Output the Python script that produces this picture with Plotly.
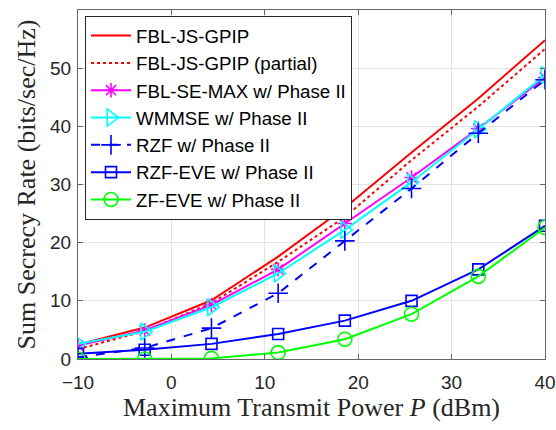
import plotly.graph_objects as go

x_power = [-10, -2.86, 4.29, 11.43, 18.57, 25.71, 32.86, 40]

fbl_js_gpip = [2.5, 5.4, 10.1, 17.6, 26.0, 35.5, 44.8, 54.8]
fbl_js_gpip_partial = [1.7, 4.8, 9.6, 16.7, 24.4, 34.2, 43.4, 53.3]
fbl_se_max = [2.3, 4.9, 9.3, 15.4, 23.3, 31.2, 39.6, 48.4]
wmmse = [2.6, 4.7, 8.9, 14.7, 22.2, 30.4, 39.5, 48.8]
rzf = [0.3, 1.9, 5.3, 11.3, 20.3, 29.3, 38.8, 48.0]
rzf_eve = [0.9, 1.6, 2.6, 4.3, 6.6, 10.0, 15.4, 22.9]
zf_eve = [0.0, 0.0, 0.1, 1.1, 3.4, 7.7, 14.2, 22.6]

series = [
    ("FBL-JS-GPIP", fbl_js_gpip, "#ff0000", "solid", None, 0),
    ("FBL-JS-GPIP (partial)", fbl_js_gpip_partial, "#ff0000", "dot", None, 0),
    ("FBL-SE-MAX w/ Phase II", fbl_se_max, "#ff00ff", "solid", "asterisk-open", 12),
    ("WMMSE w/ Phase II", wmmse, "#00ffff", "solid", "triangle-right-open", 15),
    ("RZF w/ Phase II", rzf, "#0000ff", "dash", "cross-thin-open", 14),
    ("RZF-EVE w/ Phase II", rzf_eve, "#0000ff", "solid", "square-open", 11),
    ("ZF-EVE w/ Phase II", zf_eve, "#00ff00", "solid", "circle-open", 14),
]

fig = go.Figure()
for i, (name, ys, color, dash, sym, size) in enumerate(series):
    mode = "lines+markers" if sym else "lines"
    kw = {}
    if sym:
        kw["marker"] = dict(symbol=sym, size=size, color=color,
                            line=dict(color=color, width=1.6))
    fig.add_trace(go.Scatter(
        x=x_power, y=ys, name=name, mode=mode, legendgroup=f"g{i}",
        line=dict(color=color, width=2, dash=dash), **kw))

axis_common = dict(
    showline=True, linecolor="#666666", linewidth=1.3, mirror="ticks",
    ticks="inside", ticklen=5, tickcolor="#666666", automargin=False,
    showgrid=True, gridcolor="#e3e3e3", gridwidth=1, zeroline=False,
    tickfont=dict(family="Liberation Sans, Arial", size=19, color="#262626"),
)
title_font = dict(family="Liberation Serif, Times New Roman", size=26, color="#262626")

fig.update_layout(
    width=556, height=430,
    margin=dict(l=78, r=11, t=10, b=71),
    plot_bgcolor="white", paper_bgcolor="white",
    xaxis=dict(range=[-10, 40], tickvals=[-10, 0, 10, 20, 30, 40],
               ticklabelstandoff=6,
               title=dict(text="Maximum Transmit Power <i>P</i> (dBm)",
                          font=title_font, standoff=4),
               **axis_common),
    yaxis=dict(range=[0, 60], tickvals=[0, 10, 20, 30, 40, 50, 60],
               ticklabelstandoff=2,
               title=dict(text="Sum Secrecy Rate (bits/sec/Hz)",
                          font=title_font, standoff=6),
               **axis_common),
    legend=dict(x=0.015, y=0.983, xanchor="left", yanchor="top",
                bgcolor="white", bordercolor="#262626", borderwidth=1,
                font=dict(family="Liberation Sans, Arial", size=18.7, color="#000000"),
                traceorder="grouped", tracegroupgap=0, itemwidth=40),
    showlegend=True,
)

fig.write_html("out.html")
